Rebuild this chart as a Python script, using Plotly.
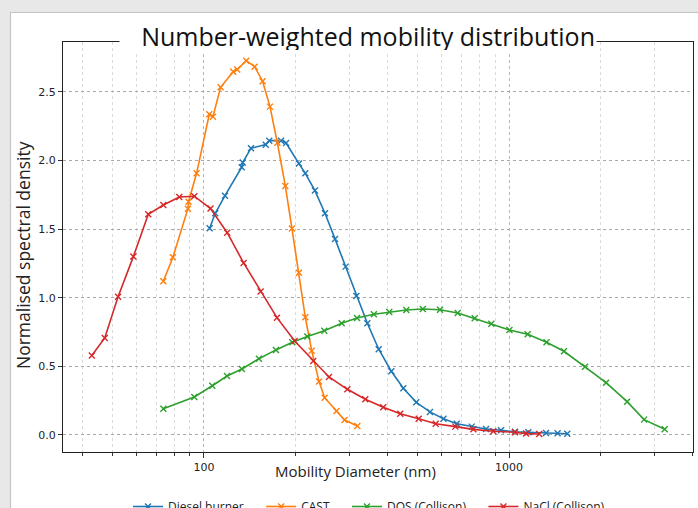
import plotly.graph_objects as go

# values
diesel_x = [104.4, 108.9, 117.2, 133.0, 134.0, 142.6, 159.4, 163.7, 178.9, 185.8, 204.8, 214.9,
            231.1, 249.3, 268.9, 291.4, 315.9, 343.2, 374.0, 411.3, 450.3, 496.6, 550.6, 609.6,
            674.0, 754.6, 840.7, 941.4, 1046, 1157, 1322, 1443, 1552]
diesel_y = [1.506, 1.616, 1.744, 1.951, 1.985, 2.09, 2.116, 2.145, 2.145, 2.128, 1.978, 1.907,
            1.781, 1.616, 1.429, 1.227, 1.013, 0.814, 0.625, 0.464, 0.340, 0.238, 0.168, 0.119,
            0.082, 0.061, 0.044, 0.034, 0.024, 0.020, 0.015, 0.012, 0.009]

cast_x = [73.6, 79.1, 88.6, 89.0, 94.6, 104.1, 107.0, 113.4, 124.7, 128.5, 137.6, 146.6, 155.7,
          164.6, 174.0, 184.8, 194.3, 204.8, 214.9, 225.5, 238.4, 248.7, 272.0, 289.0, 318.3]
cast_y = [1.12, 1.295, 1.649, 1.70, 1.907, 2.337, 2.32, 2.534, 2.648, 2.663, 2.728, 2.684, 2.578,
          2.393, 2.13, 1.815, 1.504, 1.183, 0.858, 0.614, 0.389, 0.272, 0.175, 0.109, 0.066]

dos_x = [73.6, 93.0, 106.5, 119.0, 133.2, 151.4, 172.2, 194.8, 218.2, 248.0, 282.8, 317.5, 360.6,
         405.0, 460.6, 521.8, 594.0, 678.8, 771.7, 875.0, 1003, 1151, 1327, 1514, 1775, 2080,
         2438, 2771, 3238]
dos_y = [0.192, 0.277, 0.359, 0.43, 0.481, 0.556, 0.62, 0.676, 0.717, 0.76, 0.814, 0.853, 0.88,
         0.897, 0.911, 0.918, 0.913, 0.889, 0.85, 0.811, 0.765, 0.734, 0.676, 0.61, 0.498, 0.381,
         0.243, 0.112, 0.042]

nacl_x = [42.9, 47.3, 52.3, 58.7, 65.7, 73.6, 83.0, 93.0, 105.1, 119.2, 134.9, 153.4, 173.5,
          198.3, 228.2, 256.9, 295.2, 338.0, 387.0, 440.0, 505.7, 575.0, 667.0, 764.0, 888.0,
          1046, 1137, 1256]
nacl_y = [0.58, 0.707, 1.008, 1.30, 1.608, 1.676, 1.735, 1.74, 1.65, 1.474, 1.254, 1.045, 0.855,
          0.685, 0.539, 0.423, 0.333, 0.260, 0.202, 0.155, 0.118, 0.082, 0.061, 0.041, 0.027,
          0.02, 0.01, 0.007]

x_major = [100, 1000]
x_minor = [40, 50, 60, 70, 80, 90, 200, 300, 400, 500, 600, 700, 800, 900, 2000, 3000, 4000]
y_ticks = [0, 0.5, 1.0, 1.5, 2.0, 2.5]

series = [("Diesel burner", diesel_x, diesel_y, "#1f77b4"),
          ("CAST", cast_x, cast_y, "#ff7f0e"),
          ("DOS (Collison)", dos_x, dos_y, "#2ca02c"),
          ("NaCl (Collison)", nacl_x, nacl_y, "#d62728")]

pad = "\u00a0" * 4  # widen legend spacing like the reference
fig = go.Figure()
for name, xs, ys, col in series:
    fig.add_trace(go.Scatter(name=name + pad, x=xs, y=ys, mode="lines+markers",
                             line=dict(color=col, width=1.6),
                             marker=dict(symbol="x-thin", size=6,
                                         line=dict(color=col, width=1.4))))

# plot box in pixels: left 63, right 693, top 42, bottom 452
def px(x):
    return (x - 63) / 630

def py(y):
    return (452 - y) / 410

fig.update_layout(
    width=698, height=508,
    margin=dict(l=63, r=5, t=42, b=56, autoexpand=False),
    paper_bgcolor="white", plot_bgcolor="white",
    font=dict(family="DejaVu Sans", size=11, color="#222222"),
    showlegend=True,
    legend=dict(orientation="h", x=px(128), xanchor="left", y=py(492), yanchor="top",
                font=dict(family="Open Sans", size=12, color="#222222"),
                itemwidth=30, bgcolor="rgba(0,0,0,0)"),
    xaxis=dict(type="log", range=[1.538, 3.603],
               tickvals=x_major, ticktext=["100", "1000"],
               ticks="outside", ticklen=5, tickcolor="#333333",
               showline=True, linecolor="#222222", linewidth=1.2, mirror=True,
               showgrid=True, gridcolor="#b5b5b5", griddash="dot", gridwidth=1,
               minor=dict(tickvals=x_minor, ticks="outside", ticklen=3, tickcolor="#333333",
                          showgrid=True, gridcolor="#dadada", griddash="dot"),
               zeroline=False),
    yaxis=dict(range=[-0.124, 2.864], tickvals=y_ticks,
               tickformat=".1f", ticks="outside", ticklen=4, tickcolor="#333333",
               showline=True, linecolor="#222222", linewidth=1.2, mirror=True,
               showgrid=True, gridcolor="#a8a8a8", griddash="dot", gridwidth=1,
               zeroline=False),
)

# window frame strips
fig.add_shape(type="rect", xref="paper", yref="paper", x0=px(-5), x1=px(10), y0=py(520), y1=py(-5),
              fillcolor="#e8e8e8", line=dict(width=0), layer="above")
fig.add_shape(type="line", xref="paper", yref="paper", x0=px(10.5), x1=px(10.5), y0=py(520), y1=py(12),
              line=dict(color="#c4c4c4", width=1.2))
fig.add_shape(type="rect", xref="paper", yref="paper", x0=px(-5), x1=px(705), y0=py(12), y1=py(-5),
              fillcolor="#e8e8e8", line=dict(width=0), layer="above")
fig.add_shape(type="line", xref="paper", yref="paper", x0=px(10.5), x1=px(705), y0=py(12.5), y1=py(12.5),
              line=dict(color="#c4c4c4", width=1.2))

fig.add_annotation(text="Number-weighted mobility distribution", xref="paper", yref="paper",
                   x=px(358), y=py(36), xanchor="center", yanchor="middle", showarrow=False,
                   width=474, height=28, align="right", borderpad=1,
                   bgcolor="white", font=dict(family="Open Sans", size=25, color="#111111"))
fig.add_annotation(text="Mobility Diameter (nm)", xref="paper", yref="paper",
                   x=px(355), y=py(471), xanchor="center", yanchor="middle", showarrow=False,
                   font=dict(family="Open Sans", size=15, color="#222222"))
fig.add_annotation(text="Normalised spectral density", xref="paper", yref="paper",
                   x=px(23), y=py(255), xanchor="center", yanchor="middle", showarrow=False,
                   textangle=-90, font=dict(family="Open Sans", size=17.5, color="#222222"))

fig.write_html("out.html", config={"displayModeBar": False},
               post_script="document.body.style.margin='0';document.body.style.overflow='hidden';")
